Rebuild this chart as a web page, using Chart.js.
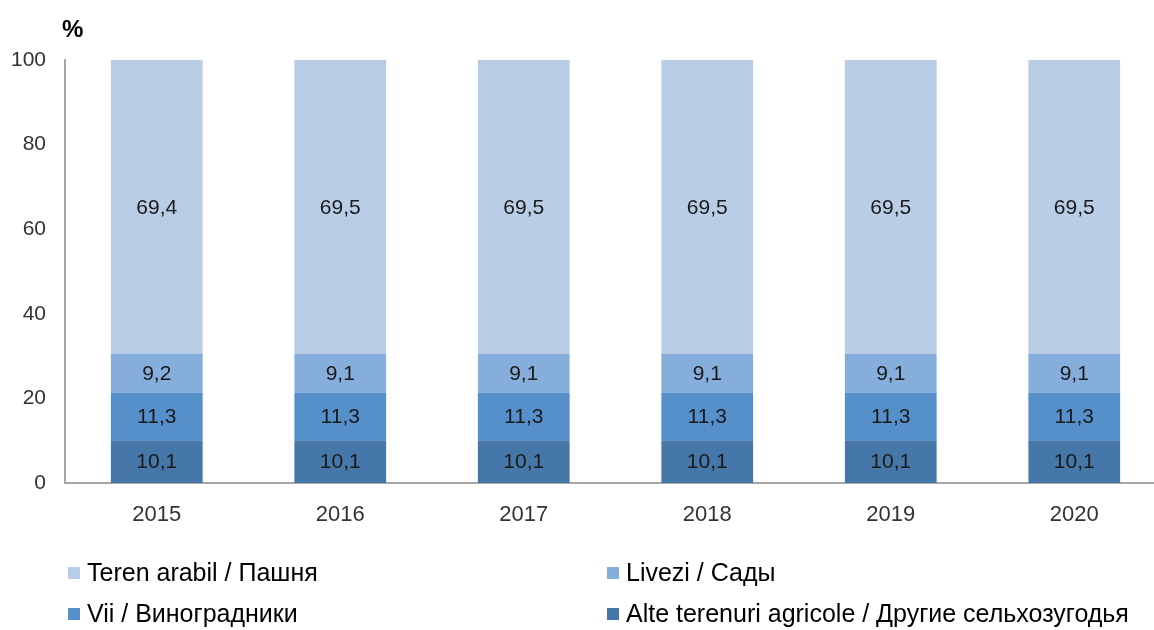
<!DOCTYPE html>
<html>
<head>
<meta charset="utf-8">
<script src="https://cdn.jsdelivr.net/npm/chart.js@4.4.1/dist/chart.umd.min.js"></script>
<style>
  html, body { margin: 0; padding: 0; background: #fff; overflow: hidden; }
  #wrap { position: relative; width: 1154px; height: 630px; overflow: hidden; }
  #landChart { position: absolute; left: 0; top: 0; }
  #unit { position: absolute; left: 62px; top: 15px; font: bold 24px "Liberation Sans", Arial, sans-serif; color: #000; }
  .leg { position: absolute; font: 25px "Liberation Sans", Arial, sans-serif; color: #000; white-space: nowrap; line-height: 28px; }
  .leg span { display: inline-block; width: 12px; height: 12px; margin-right: 7px; vertical-align: 2px; }
</style>
</head>
<body>
<div id="wrap">
  <canvas id="landChart" width="1166" height="630"></canvas>
  <div id="unit">%</div>
  <div id="legend"></div>
</div>
<script>
const years = ['2015', '2016', '2017', '2018', '2019', '2020'];
const alteValues = [10.1, 10.1, 10.1, 10.1, 10.1, 10.1];
const viiValues = [11.3, 11.3, 11.3, 11.3, 11.3, 11.3];
const liveziValues = [9.2, 9.1, 9.1, 9.1, 9.1, 9.1];
const terenValues = [69.4, 69.5, 69.5, 69.5, 69.5, 69.5];
const yTicks = [0, 20, 40, 60, 80, 100];

const fontFamily = '"Liberation Sans", Arial, sans-serif';

// values printed inside each segment
const segmentLabels = {
    id: 'segmentLabels',
    afterDatasetsDraw(chart) {
        const ctx = chart.ctx;
        ctx.save();
        ctx.font = '21px ' + fontFamily;
        ctx.fillStyle = '#1a1a1a';
        ctx.textAlign = 'center';
        ctx.textBaseline = 'middle';
        chart.data.datasets.forEach((ds, i) => {
            chart.getDatasetMeta(i).data.forEach((bar, j) => {
                const mid = (bar.y + bar.base) / 2;
                ctx.fillText(ds.data[j].toFixed(1).replace('.', ','), bar.x, mid + 1);
            });
        });
        ctx.restore();
    }
};

const ctx = document.getElementById('landChart').getContext('2d');
const chart = new Chart(ctx, {
    type: 'bar',
    data: {
        labels: years,
        datasets: [
            { label: 'Alte terenuri agricole / Другие сельхозугодья', data: alteValues, backgroundColor: '#4677A9' },
            { label: 'Vii / Виноградники', data: viiValues, backgroundColor: '#5590CB' },
            { label: 'Livezi / Сады', data: liveziValues, backgroundColor: '#86AEDD' },
            { label: 'Teren arabil / Пашня', data: terenValues, backgroundColor: '#B9CDE7' }
        ]
    },
    options: {
        responsive: false,
        animation: false,
        layout: { padding: { top: 60, left: 0, right: 0, bottom: 0 } },
        datasets: {
            bar: { barPercentage: 0.5, categoryPercentage: 1.0, borderWidth: 0 }
        },
        scales: {
            x: {
                stacked: true,
                grid: { display: false, drawTicks: false },
                border: { color: '#a6a6a6', width: 2 },
                ticks: { color: '#333', font: { family: fontFamily, size: 22 }, padding: 19 },
                afterFit: function (scale) { scale.height = 147; }
            },
            y: {
                stacked: true,
                min: 0,
                max: 100,
                afterBuildTicks: function (scale) { scale.ticks = yTicks.map(v => ({ value: v })); },
                grid: { display: false, drawTicks: false },
                border: { color: '#a6a6a6', width: 2 },
                ticks: { color: '#333', font: { family: fontFamily, size: 21 }, padding: 19 },
                afterFit: function (scale) { scale.width = 65; }
            }
        },
        plugins: {
            legend: { display: false },
            tooltip: { enabled: false }
        }
    },
    plugins: [segmentLabels]
});

// legend in two columns, same order as the original
const legendOrder = [3, 2, 1, 0];
const legendPos = [[68, 558], [607, 558], [68, 599], [607, 599]];
const legendEl = document.getElementById('legend');
legendOrder.forEach((idx, k) => {
    const ds = chart.data.datasets[idx];
    const item = document.createElement('div');
    item.className = 'leg';
    item.style.left = legendPos[k][0] + 'px';
    item.style.top = legendPos[k][1] + 'px';
    item.innerHTML = '<span style="background:' + ds.backgroundColor + '"></span>' + ds.label;
    legendEl.appendChild(item);
});
</script>
</body>
</html>
